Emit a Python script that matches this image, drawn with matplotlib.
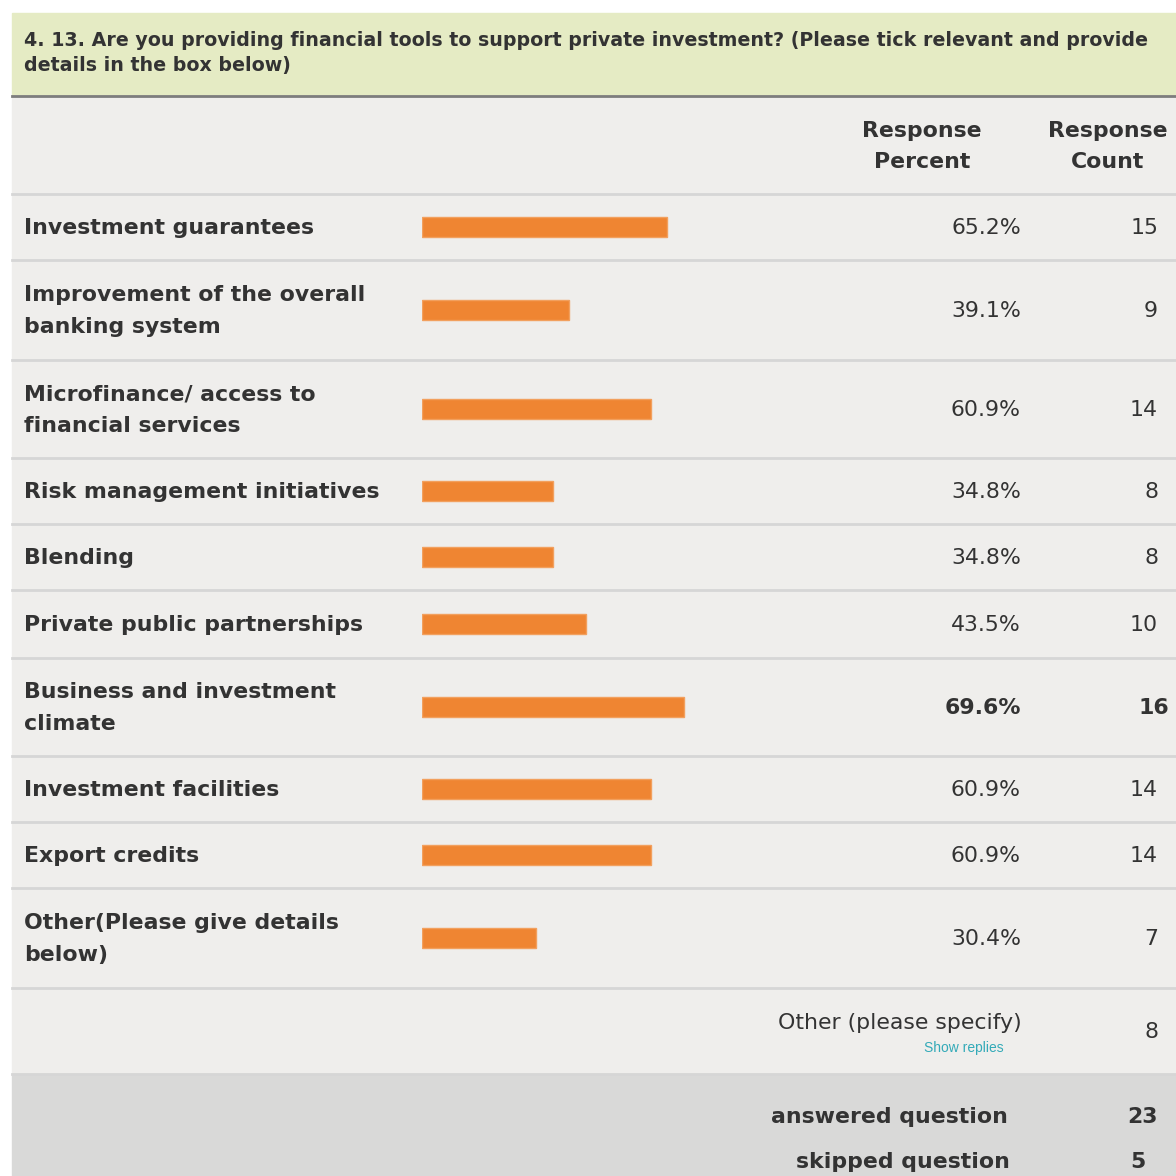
import matplotlib.pyplot as plt
from matplotlib.patches import Rectangle

# survey data
labels = [
    "Investment guarantees",
    "Improvement of the overall\nbanking system",
    "Microfinance/ access to\nfinancial services",
    "Risk management initiatives",
    "Blending",
    "Private public partnerships",
    "Business and investment\nclimate",
    "Investment facilities",
    "Export credits",
    "Other(Please give details\nbelow)",
]
percents = [65.2, 39.1, 60.9, 34.8, 34.8, 43.5, 69.6, 60.9, 60.9, 30.4]
counts = [15, 9, 14, 8, 8, 10, 16, 14, 14, 7]
other_count = 8
answered = 23
skipped = 5
title_lines = ["4. 13. Are you providing financial tools to support private investment? "
               "(Please tick relevant and provide",
               "details in the box below)"]

# layout (pixel rows of the table)
W = H = 1176
row_edges = [194, 260, 360, 458, 524, 590, 658, 756, 822, 888, 988, 1074]
bar_left, bar_right = 422, 798

plt.rcParams['font.family'] = ['DejaVu Sans']
txt = '#333333'
FS = 15.8
fig = plt.figure(figsize=(W / 100, H / 100), dpi=100)
fig.patch.set_facecolor('white')
ax = fig.add_axes([0, 0, 1, 1])
ax.set_xlim(0, W)
ax.set_ylim(H, 0)
ax.axis('off')

# backgrounds
ax.add_patch(Rectangle((12, 13), W - 12, 83, color='#e5ebc4', zorder=0))
ax.add_patch(Rectangle((12, 96), W - 12, 978, color='#efeeec', zorder=0))
ax.add_patch(Rectangle((12, 1074), W - 12, H - 1074, color='#d9d9d8', zorder=0))
ax.plot([12, W], [96, 96], color='#7d7d7d', lw=2, zorder=1)
for y in row_edges:
    ax.plot([12, W], [y, y], color='#d6d6d6', lw=2, zorder=1)

for k, line in enumerate(title_lines):
    ax.text(24, 40 + 26 * k, line, fontsize=13.7, fontweight='bold', color=txt,
            va='center', ha='left')

# column headers
for cx, head in [(922, "Response\nPercent"), (1108, "Response\nCount")]:
    for k, line in enumerate(head.split("\n")):
        ax.text(cx, 131 + 31 * k, line, fontsize=FS, fontweight='bold',
                color=txt, ha='center', va='center')

centers = [(row_edges[i] + row_edges[i + 1]) / 2 for i in range(len(labels))]
top_idx = percents.index(max(percents))

for i, (lab, p, c, yc) in enumerate(zip(labels, percents, counts, centers)):
    lines = lab.split("\n")
    off = (len(lines) - 1) * 16
    for k, line in enumerate(lines):
        ax.text(24, yc - off + 32 * k + 1, line, fontsize=FS, fontweight='bold',
                color=txt, ha='left', va='center')
    bold = i == top_idx
    ax.text(1021, yc + 1, f"{p:.1f}%", fontsize=FS, color=txt,
            fontweight='bold' if bold else 'normal', ha='right', va='center')
    ax.text(1169 if bold else 1158, yc + 1, str(c), fontsize=FS, color=txt,
            fontweight='bold' if bold else 'normal', ha='right', va='center')

# bars in their own axes scaled 0-100 %
bax = fig.add_axes([bar_left / W, 0, (bar_right - bar_left) / W, 1])
bax.set_xlim(0, 100)
bax.set_ylim(H, 0)
bax.axis('off')
bax.barh(centers, percents, height=20, color='#ef8532', edgecolor='#f2a05e',
         linewidth=1, zorder=3)

# other / summary
ax.text(1022, 1023, "Other (please specify)", fontsize=FS, color=txt,
        ha='right', va='center')
ax.text(964, 1048, "Show replies", fontsize=10, color='#33aab8',
        family=['Liberation Sans Narrow', 'Liberation Sans'], ha='center', va='center')
ax.text(1158, 1032, str(other_count), fontsize=FS, color=txt, ha='right', va='center')
ax.text(1008, 1117, "answered question", fontsize=FS, fontweight='bold',
        color=txt, ha='right', va='center')
ax.text(1158, 1117, str(answered), fontsize=FS, fontweight='bold',
        color=txt, ha='right', va='center')
ax.text(1010, 1162, "skipped question", fontsize=FS, fontweight='bold',
        color=txt, ha='right', va='center')
ax.text(1130, 1162, str(skipped), fontsize=FS, fontweight='bold',
        color=txt, ha='left', va='center')

fig.savefig("out.png", dpi=100, facecolor=fig.get_facecolor())
